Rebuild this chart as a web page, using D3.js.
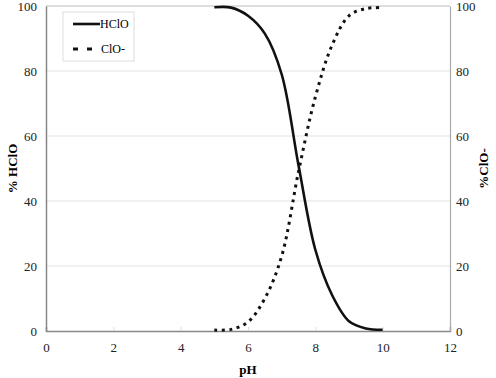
<!DOCTYPE html>
<html>
<head>
<meta charset="utf-8">
<script src="https://cdn.jsdelivr.net/npm/d3@7"></script>
<style>
  body { margin: 0; background: #fff; }
</style>
</head>
<body>
<div id="chart"></div>
<script>
const phValues = [5, 5.5, 6, 6.5, 7, 7.5, 8, 8.5, 9, 9.5, 10];
const hcloValues = [99.6, 99.5, 97.0, 91.5, 79, 51, 25, 11, 3, 0.8, 0.4];
const cloValues = [0.3, 0.5, 2.8, 10, 23, 49, 72, 88, 97, 99.2, 99.5];
const xTicks = [0, 2, 4, 6, 8, 10, 12];
const yTicks = [0, 20, 40, 60, 80, 100];
const seriesNames = ["HClO", "ClO-"];

const FONT = "'Liberation Serif', 'Times New Roman', serif";
const W = 496, H = 378;
const margin = { top: 6, right: 46, bottom: 47, left: 46 };
const width = W - margin.left - margin.right;
const height = H - margin.top - margin.bottom;

const svg = d3.select("#chart").append("svg")
    .attr("width", W)
    .attr("height", H)
    .attr("font-family", FONT);

const g = svg.append("g")
    .attr("transform", `translate(${margin.left},${margin.top})`);

const x = d3.scaleLinear().domain([0, 12]).range([0, width]);
const y = d3.scaleLinear().domain([0, 100]).range([height, 0]);

// gridlines
g.selectAll(".grid")
    .data(yTicks.filter(d => d > 0))
    .enter().append("line")
    .attr("x1", 0).attr("x2", width)
    .attr("y1", d => y(d)).attr("y2", d => y(d))
    .attr("stroke", d => d === 100 ? "#bbb" : "#e4e4e4")
    .attr("stroke-width", 1.2);

// bottom axis
const xAxis = g.append("g")
    .attr("transform", `translate(0,${height})`)
    .call(d3.axisBottom(x).tickValues(xTicks).tickSize(-4).tickPadding(12))
    .attr("font-family", FONT);
xAxis.select(".domain").attr("stroke", "#888").attr("stroke-width", 1.5);
xAxis.selectAll(".tick line").attr("stroke", "#ddd");
xAxis.selectAll("text").attr("font-size", 13).attr("fill", "#222");

// left axis
const yLeft = g.append("g")
    .call(d3.axisLeft(y).tickValues(yTicks).tickSize(0).tickPadding(9))
    .attr("font-family", FONT);
yLeft.select(".domain").attr("stroke", "#888").attr("stroke-width", 1.5);
yLeft.selectAll("text").attr("font-size", 13).attr("fill", "#222");

// right axis
const yRight = g.append("g")
    .attr("transform", `translate(${width},0)`)
    .call(d3.axisRight(y).tickValues(yTicks).tickSize(0).tickPadding(6))
    .attr("font-family", FONT);
yRight.select(".domain").attr("stroke", "#aaa").attr("stroke-width", 1.2);
yRight.selectAll("text").attr("font-size", 13).attr("fill", "#222");

// axis titles
svg.append("text")
    .attr("x", margin.left + x(6)).attr("y", 374)
    .attr("text-anchor", "middle")
    .attr("font-size", 13).attr("font-weight", "bold")
    .text("pH");

svg.append("text")
    .attr("transform", `translate(17,${margin.top + y(50)}) rotate(-90)`)
    .attr("text-anchor", "middle")
    .attr("font-size", 13).attr("font-weight", "bold")
    .text("% HClO");

svg.append("text")
    .attr("transform", `translate(488,${margin.top + y(50)}) rotate(-90)`)
    .attr("text-anchor", "middle")
    .attr("font-size", 13).attr("font-weight", "bold")
    .text("%ClO-");

// lines
const lineGen = d3.line()
    .x(d => x(d[0]))
    .y(d => y(d[1]))
    .curve(d3.curveCatmullRom);

g.append("path")
    .datum(phValues.map((p, i) => [p, hcloValues[i]]))
    .attr("fill", "none")
    .attr("stroke", "#111")
    .attr("stroke-width", 2.6)
    .attr("d", lineGen);

g.append("path")
    .datum(phValues.map((p, i) => [p, cloValues[i]]))
    .attr("fill", "none")
    .attr("stroke", "#111")
    .attr("stroke-width", 3)
    .attr("stroke-dasharray", "3,4.5")
    .attr("d", lineGen);

// legend
const legend = svg.append("g").attr("transform", "translate(63,12)");
legend.append("rect")
    .attr("width", 71).attr("height", 49)
    .attr("fill", "#fff").attr("stroke", "#ddd");

const rows = legend.selectAll(".leg")
    .data(seriesNames)
    .enter().append("g")
    .attr("transform", (d, i) => `translate(0,${12 + i * 25})`);

rows.append("line")
    .attr("x1", 10).attr("x2", d => d === "HClO" ? 37 : 30)
    .attr("stroke", "#111")
    .attr("stroke-width", d => d === "HClO" ? 2.6 : 3)
    .attr("stroke-dasharray", d => d === "HClO" ? null : "5,9");

rows.append("text")
    .attr("x", d => d === "HClO" ? 37 : 38)
    .attr("dy", "0.35em")
    .attr("font-size", 12)
    .text(d => d);
</script>
</body>
</html>
